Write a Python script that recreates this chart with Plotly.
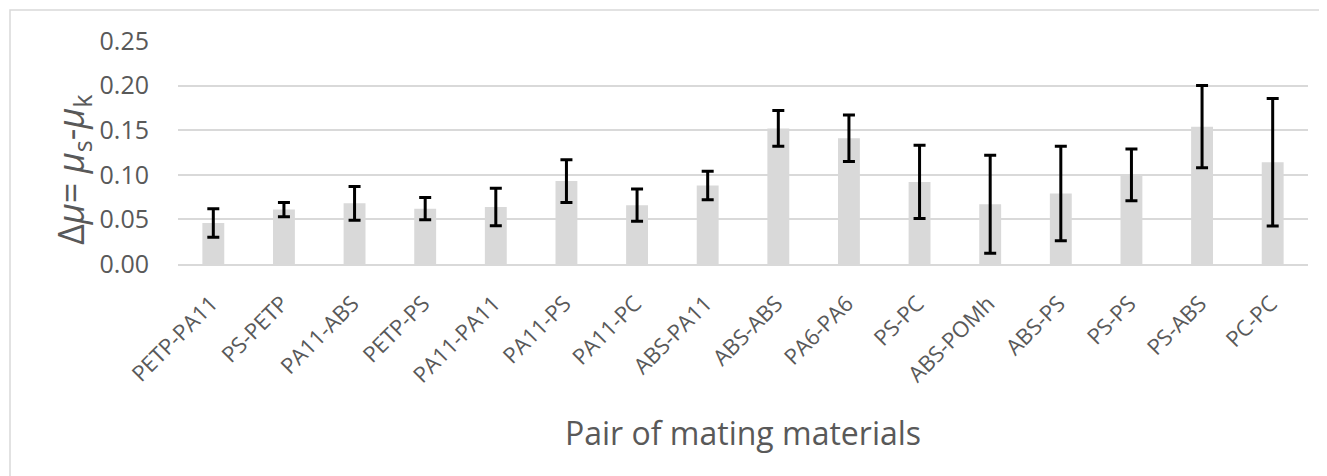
import plotly.graph_objects as go

categories = ["PETP-PA11", "PS-PETP", "PA11-ABS", "PETP-PS", "PA11-PA11", "PA11-PS",
              "PA11-PC", "ABS-PA11", "ABS-ABS", "PA6-PA6", "PS-PC", "ABS-POMh",
              "ABS-PS", "PS-PS", "PS-ABS", "PC-PC"]
delta_mu = [0.046, 0.061, 0.068, 0.062, 0.064, 0.093, 0.066, 0.088, 0.152, 0.141,
            0.092, 0.067, 0.079, 0.100, 0.154, 0.114]
err = [0.016, 0.008, 0.019, 0.0125, 0.021, 0.024, 0.018, 0.016, 0.020, 0.026,
       0.041, 0.055, 0.053, 0.029, 0.046, 0.0715]
y_ticks = [0.00, 0.05, 0.10, 0.15, 0.20, 0.25]

# page body has an 8px margin; size the figure to fill the rest of the window
OFF = 8
W, H = 1327 - OFF, 476 - OFF
L, T = 178 - OFF, 41 - OFF
pw, ph = 1130, 223
R = W - L - pw
B = H - T - ph
FONT = "Open Sans"
GREY = "#595959"


def px_x(x):
    return (x - OFF - L) / pw


def px_y(y):
    return (T + ph - (y - OFF)) / ph


fig = go.Figure(go.Bar(
    x=categories, y=delta_mu,
    marker=dict(color="#d9d9d9", line=dict(width=0)),
    error_y=dict(type="data", array=err, visible=True, color="black",
                 thickness=3, width=6),
))

fig.update_layout(
    width=W, height=H,
    margin=dict(l=L, r=R, t=T, b=B, autoexpand=False),
    paper_bgcolor="white", plot_bgcolor="white",
    bargap=0.69,
    showlegend=False,
    font=dict(family=FONT, color=GREY),
    xaxis=dict(
        tickangle=-45, tickfont=dict(size=22, color=GREY, family=FONT),
        showgrid=False, showline=True, linecolor="#d9d9d9", linewidth=2,
        ticks="", ticklabelstandoff=16, ticklabelshift=-2, automargin=False,
    ),
    yaxis=dict(
        range=[0, 0.25], tickvals=y_ticks, ticktext=[f"{v:.2f}" for v in y_ticks],
        tickfont=dict(size=25, color=GREY, family=FONT),
        showgrid=True, gridcolor="#d9d9d9", gridwidth=1.5,
        zeroline=False, showline=False, ticks="", ticklabelstandoff=28,
        automargin=False,
    ),
    annotations=[
        dict(text="Δ<i>μ</i>= <i>μ</i><sub>s</sub>-<i>μ</i><sub>k</sub>",
             xref="paper", yref="paper", x=px_x(72), y=px_y(170),
             xanchor="center", yanchor="middle", textangle=-90, showarrow=False,
             font=dict(size=36, color=GREY, family=FONT)),
        dict(text="Pair of mating materials",
             xref="paper", yref="paper", x=px_x(743), y=px_y(432),
             xanchor="center", yanchor="middle", showarrow=False,
             font=dict(size=32, color=GREY, family=FONT)),
    ],
    shapes=[dict(type="rect", xref="paper", yref="paper",
                 x0=px_x(10), x1=px_x(1360), y0=px_y(500), y1=px_y(10),
                 line=dict(color="#d9d9d9", width=1.5), layer="below")],
)

fig.write_html("out.html")
